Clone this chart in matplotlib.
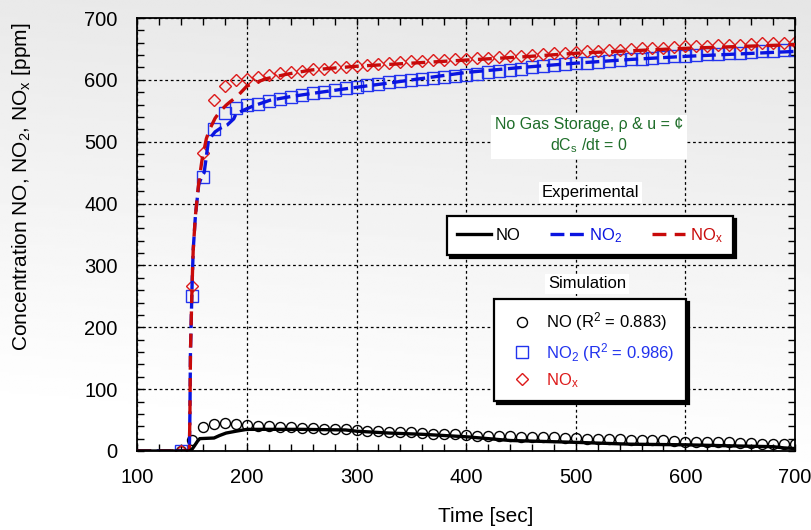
import numpy as np
import matplotlib
matplotlib.use("Agg")
import matplotlib.pyplot as plt
from matplotlib.ticker import MultipleLocator

plt.rcParams['font.family'] = ['Liberation Sans', 'DejaVu Sans']
plt.rcParams['mathtext.fontset'] = 'custom'
plt.rcParams['mathtext.rm'] = 'Liberation Sans'
plt.rcParams['mathtext.it'] = 'Liberation Sans:italic'
plt.rcParams['lines.scale_dashes'] = False

# --- experimental curves
exp_no_t = [100, 148, 150, 152, 155, 157, 170, 175, 181, 190, 200, 210, 250, 290,
            300, 330, 360, 400, 440, 500, 550, 600, 650, 680, 690, 700]
exp_no = [0, 0, 3, 8, 16, 20, 21, 25, 29, 32, 35, 35, 35, 34,
          32, 29, 27, 23, 17, 14, 11, 10, 8, 7, 5, 4]

exp_no2_t = [100, 147.5, 148, 148.5, 150, 151, 153, 156, 159, 161, 165, 171, 176, 182,
             188, 190, 197, 206, 221, 240, 259, 300, 330, 400, 450, 500, 550, 600, 650, 700]
exp_no2 = [0, 0, 60, 160, 270, 325, 380, 430, 445, 450, 503, 516, 522, 527,
           537, 545, 551, 558, 567, 573, 578, 588, 595, 612, 620, 627, 633, 638, 642, 646]

exp_nox_t = [100, 147.5, 148, 148.5, 150, 151, 153, 156, 159, 163, 166, 171, 175, 181,
             185, 191, 200, 210, 218, 236, 259, 279, 300, 350, 400, 450, 500, 550, 600, 650, 700]
exp_nox = [0, 0, 60, 160, 270, 325, 380, 433, 470, 505, 520, 538, 548, 559,
           565, 573, 590, 597, 602, 609, 616, 619, 622, 627, 632, 637, 643, 647, 651, 654, 657]

# --- simulation points
sim_t = [140, 150, 160, 170, 180, 190, 200, 210, 220, 230, 240, 250, 260, 270, 280, 290,
         300, 310, 320, 330, 340, 350, 360, 370, 380, 390, 400, 410, 420, 430, 440, 450,
         460, 470, 480, 490, 500, 510, 520, 530, 540, 550, 560, 570, 580, 590, 600, 610,
         620, 630, 640, 650, 660, 670, 680, 690, 700]
sim_no = [0, 18, 38, 44, 45, 44, 42, 41, 40, 39, 38, 37, 37, 36, 35, 35,
          34, 33, 32, 31, 30, 30, 29, 28, 27, 27, 26, 25, 25, 24, 24, 23,
          23, 22, 22, 21, 21, 20, 20, 19, 19, 18, 18, 17, 17, 16, 15, 15,
          14, 14, 14, 13, 13, 12, 12, 11, 11]
sim_no2 = [0, 250, 443, 521, 546, 555, 559, 561, 566, 569, 573, 575, 578, 581, 584, 587,
           589, 592, 594, 596, 598, 600, 602, 603, 605, 607, 608, 610, 612, 614, 616, 618,
           620, 622, 624, 625, 627, 628, 629, 631, 632, 633, 634, 636, 637, 638, 639, 640,
           641, 642, 643, 644, 645, 646, 647, 648, 649]
sim_nox = [0, 267, 481, 567, 590, 600, 602, 605, 608, 611, 612, 614, 617, 618, 620, 621,
           622, 624, 626, 628, 629, 630, 631, 632, 632, 633, 634, 635, 636, 637, 638, 639,
           640, 641, 643, 644, 645, 646, 647, 648, 649, 650, 651, 651, 652, 653, 654, 655,
           655, 656, 657, 657, 658, 659, 659, 660, 661]

BLUE = '#0a14e0'
RED = '#c80a0a'
GREEN = '#1f6e2a'

fig = plt.figure(figsize=(8.11, 5.30), dpi=100)

# soft grey background gradient
bg = fig.add_axes([0, 0, 1, 1], zorder=-10)
yy, xx = np.mgrid[0:1:200j, 0:1:300j]
shade = 0.90 + 0.10 * np.clip(yy * 1.1 + (1 - xx) * 0.15, 0, 1)
bg.imshow(shade, cmap='gray', vmin=0, vmax=1, aspect='auto', extent=[0, 1, 1, 0])
bg.axis('off')

ax = fig.add_axes([137.3 / 811, 79 / 530, 657.7 / 811, 433 / 530])
ax.set_facecolor('none')

# simulation markers
c_no, = ax.plot(sim_t, sim_no, 'o', ms=7.2, mfc='none', mec='black', mew=1.0, zorder=2)
s_no2, = ax.plot(sim_t, sim_no2, 's', ms=8.0, mfc='none', mec='#2233ee', mew=1.0, zorder=2)
d_nox, = ax.plot(sim_t, sim_nox, 'D', ms=6.6, mfc='none', mec='#dd1a1a', mew=1.0, zorder=2)

# experimental lines
l_no, = ax.plot(exp_no_t, exp_no, '-', color='black', lw=2.4, zorder=4)
l_no2, = ax.plot(exp_no2_t, exp_no2, color=BLUE, lw=2.4, linestyle=(0, (10, 4)), zorder=3)
l_nox, = ax.plot(exp_nox_t, exp_nox, color=RED, lw=2.4, linestyle=(0, (10, 6)), zorder=3.5)

ax.set_xlim(100, 700)
ax.set_ylim(0, 700)
ax.xaxis.set_major_locator(MultipleLocator(100))
ax.xaxis.set_minor_locator(MultipleLocator(20))
ax.yaxis.set_major_locator(MultipleLocator(100))
ax.yaxis.set_minor_locator(MultipleLocator(20))
ax.tick_params(which='both', direction='in', top=True, right=True, length=5, width=1,
               labelsize=14.5)
ax.tick_params(axis='y', pad=14)
ax.tick_params(axis='x', pad=12)
ax.grid(True, which='major', color='black', linestyle=(0, (2, 2)), lw=0.9)
for sp in ax.spines.values():
    sp.set_linewidth(1.3)

ax.set_xlabel('Time [sec]', fontsize=15)
ax.xaxis.set_label_coords((486 - 137.3) / 657.7, (451 - 516.7) / 433)
ax.xaxis.label.set_va('center')
ax.set_ylabel('Concentration NO, NO$_2$, NO$_\\mathrm{x}$ [ppm]', fontsize=15)
ax.yaxis.set_label_coords((22 - 137.3) / 657.7, (451 - 186.7) / 433)
ax.yaxis.label.set_va('center')

# annotations
ax.text(0.687, 0.7275, 'No Gas Storage, \u03c1 & u = \u00a2\ndC$_\\mathrm{s}$ /dt = 0',
        transform=ax.transAxes, ha='center', va='center', fontsize=11.5, color=GREEN,
        multialignment='center', linespacing=1.3,
        bbox=dict(facecolor='white', edgecolor='none', pad=3), zorder=5)
ax.text(0.6886, 0.597, 'Experimental', transform=ax.transAxes, ha='center', va='center',
        fontsize=12, bbox=dict(facecolor='white', edgecolor='none', pad=2), zorder=5)
ax.text(0.6838, 0.3857, 'Simulation', transform=ax.transAxes, ha='center', va='center',
        fontsize=12, bbox=dict(facecolor='white', edgecolor='none', pad=2), zorder=5)

shadow = {'ox': 2.2, 'oy': -2.2, 'color': 'black', 'alpha': 1}
leg1 = ax.legend([l_no, l_no2, l_nox], ['NO', 'NO$_2$', 'NO$_\\mathrm{x}$'], ncol=3,
                 loc='center', bbox_to_anchor=(0.6885, 0.498), fancybox=False,
                 edgecolor='black', framealpha=1, shadow=shadow, fontsize=12,
                 handlelength=2.0, handletextpad=0.3, columnspacing=1.8,
                 borderpad=0.6, labelcolor='linecolor')
leg1.get_frame().set_linewidth(1.6)
leg1.set_zorder(6)
ax.add_artist(leg1)

leg2 = ax.legend([c_no, s_no2, d_nox],
                 ['NO (R$^2$ = 0.883)', 'NO$_2$ (R$^2$ = 0.986)', 'NO$_\\mathrm{x}$'],
                 loc='center', bbox_to_anchor=(0.6883, 0.2333), fancybox=False,
                 edgecolor='black', framealpha=1, shadow=shadow, fontsize=12,
                 numpoints=1, handlelength=2.0, handletextpad=0.4, labelspacing=0.45,
                 borderpad=0.7, labelcolor='markeredgecolor')
leg2.get_frame().set_linewidth(1.6)
leg2.set_zorder(6)

fig.savefig('out.png', dpi=100)
